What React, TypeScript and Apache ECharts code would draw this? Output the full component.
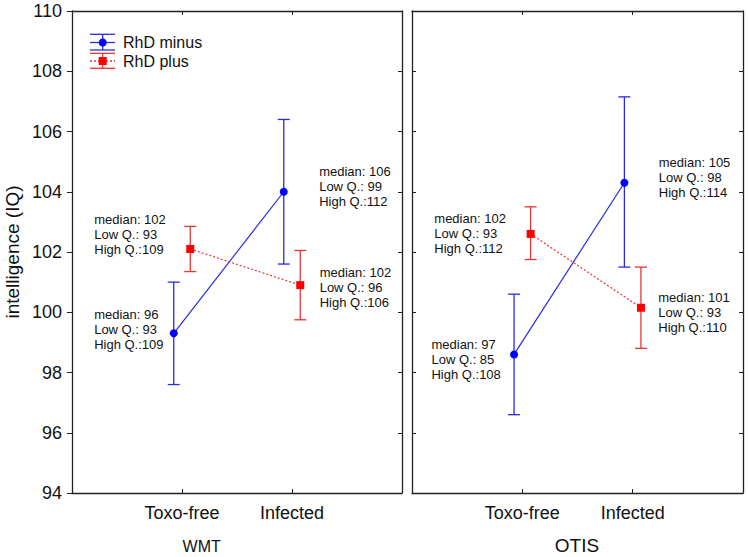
import React, { useEffect, useRef } from "react";
import * as echarts from "echarts";

// ---- data ----
const categories = ["Toxo-free", "Infected"];
const panels = ["WMT", "OTIS"];
const seriesNames = ["RhD minus", "RhD plus"];

// WMT panel
const wmtMinusMean = [99.3, 104.0];
const wmtMinusLow = [97.6, 101.6];
const wmtMinusHigh = [101.0, 106.4];
const wmtPlusMean = [102.1, 100.9];
const wmtPlusLow = [101.35, 99.75];
const wmtPlusHigh = [102.85, 102.05];
const wmtMinusMedian = [96, 106];
const wmtMinusLowQ = [93, 99];
const wmtMinusHighQ = [109, 112];
const wmtPlusMedian = [102, 102];
const wmtPlusLowQ = [93, 96];
const wmtPlusHighQ = [109, 106];

// OTIS panel
const otisMinusMean = [98.6, 104.3];
const otisMinusLow = [96.6, 101.5];
const otisMinusHigh = [100.6, 107.15];
const otisPlusMean = [102.6, 100.15];
const otisPlusLow = [101.75, 98.8];
const otisPlusHigh = [103.5, 101.5];
const otisMinusMedian = [97, 105];
const otisMinusLowQ = [85, 98];
const otisMinusHighQ = [108, 114];
const otisPlusMedian = [102, 101];
const otisPlusLowQ = [93, 93];
const otisPlusHighQ = [112, 110];

const yTicks = [94, 96, 98, 100, 102, 104, 106, 108, 110];

// ---- layout / style ----
const FONT = 'Arial, "Liberation Sans", Helvetica, sans-serif';
const BLUE = "#0000ff";
const BLUE_LINE = "#2b2be0";
const RED = "#ff0000";
const RED_LINE = "#e53535";
const AXIS_COLOR = "#222";
const SHIFT = 0.075; // horizontal dodge of the two groups
const GRIDS = [
  { left: 72, top: 11, width: 330, height: 482 },
  { left: 412, top: 11, width: 331, height: 482 },
];
// label offsets (px) from marker centre: [panel][series][category]
const LABEL_OFFSETS = [
  [
    [[-79.6, -4], [35.4, -5.4]],
    [[-96, -14], [19.4, 2.8]],
  ],
  [
    [[-82.6, 5.5], [34.4, -5.1]],
    [[-96.3, -0.7], [17.3, 4.3]],
  ],
];

const labelText = (med: number, lo: number, hi: number) =>
  `median: ${med}\nLow Q.: ${lo}\nHigh Q.:${hi}`;

type Group = {
  mean: number[];
  low: number[];
  high: number[];
  median: number[];
  lowQ: number[];
  highQ: number[];
};

const panelData: Group[][] = [
  [
    { mean: wmtMinusMean, low: wmtMinusLow, high: wmtMinusHigh, median: wmtMinusMedian, lowQ: wmtMinusLowQ, highQ: wmtMinusHighQ },
    { mean: wmtPlusMean, low: wmtPlusLow, high: wmtPlusHigh, median: wmtPlusMedian, lowQ: wmtPlusLowQ, highQ: wmtPlusHighQ },
  ],
  [
    { mean: otisMinusMean, low: otisMinusLow, high: otisMinusHigh, median: otisMinusMedian, lowQ: otisMinusLowQ, highQ: otisMinusHighQ },
    { mean: otisPlusMean, low: otisPlusLow, high: otisPlusHigh, median: otisPlusMedian, lowQ: otisPlusLowQ, highQ: otisPlusHighQ },
  ],
];

function buildOption() {
  const grid = GRIDS.map((g) => ({ ...g, show: false, containLabel: false, outerBoundsMode: "none" }));
  const xAxis: any[] = [];
  const yAxis: any[] = [];
  const series: any[] = [];

  panels.forEach((_, p) => {
    const baseX = {
      type: "value",
      gridIndex: p,
      min: 0,
      max: 3,
      interval: 1,
      splitLine: { show: false },
      axisLine: { show: true, onZero: false, lineStyle: { color: AXIS_COLOR, width: 1.3 } },
      axisTick: { show: true, inside: true, length: 4, lineStyle: { color: AXIS_COLOR } },
    };
    xAxis.push({
      ...baseX,
      position: "bottom",
      axisLabel: {
        show: true,
        fontSize: 18,
        fontFamily: FONT,
        color: "#111",
        margin: 11,
        formatter: (v: number) => categories[v - 1] ?? "",
      },
    });
    xAxis.push({ ...baseX, position: "top", axisLabel: { show: false } });

    const baseY = {
      type: "value",
      gridIndex: p,
      min: yTicks[0],
      max: yTicks[yTicks.length - 1],
      interval: 2,
      splitLine: { show: false },
      axisLine: { show: true, onZero: false, lineStyle: { color: AXIS_COLOR, width: 1.3 } },
    };
    yAxis.push({
      ...baseY,
      position: "left",
      axisTick: { show: true, inside: p !== 0, length: p === 0 ? 5 : 4, lineStyle: { color: AXIS_COLOR } },
      axisLabel: {
        show: p === 0,
        fontSize: 18,
        fontFamily: FONT,
        color: "#111",
        margin: 10,
      },
      name: p === 0 ? "intelligence (IQ)" : "",
      nameLocation: "middle",
      nameGap: 50,
      nameTextStyle: { fontSize: 19, fontFamily: FONT, color: "#111" },
    });
    yAxis.push({
      ...baseY,
      position: "right",
      axisTick: { show: true, inside: true, length: 4, lineStyle: { color: AXIS_COLOR } },
      axisLabel: { show: false },
    });

    panelData[p].forEach((grp, s) => {
      const dx = s === 0 ? -SHIFT : SHIFT;
      const color = s === 0 ? BLUE : RED;
      const lineColor = s === 0 ? BLUE_LINE : RED_LINE;
      const xs = categories.map((_, i) => i + 1 + dx);

      series.push({
        type: "custom",
        name: seriesNames[s],
        xAxisIndex: p * 2,
        yAxisIndex: p * 2,
        z: 2,
        data: xs.map((x, i) => [x, grp.low[i], grp.high[i]]),
        renderItem: (params: any, api: any) => {
          const x = api.value(0);
          const lo = api.coord([x, api.value(1)]);
          const hi = api.coord([x, api.value(2)]);
          const hw = 6;
          const st = { stroke: lineColor, lineWidth: 1.3 };
          return {
            type: "group",
            children: [
              { type: "line", shape: { x1: lo[0], y1: lo[1], x2: hi[0], y2: hi[1] }, style: st },
              { type: "line", shape: { x1: lo[0] - hw, y1: lo[1], x2: lo[0] + hw, y2: lo[1] }, style: st },
              { type: "line", shape: { x1: hi[0] - hw, y1: hi[1], x2: hi[0] + hw, y2: hi[1] }, style: st },
            ],
          };
        },
      });

      series.push({
        type: "line",
        name: seriesNames[s],
        xAxisIndex: p * 2,
        yAxisIndex: p * 2,
        z: 3,
        symbol: s === 0 ? "circle" : "rect",
        symbolSize: 8,
        itemStyle: { color },
        lineStyle: { color: lineColor, width: 1.2, type: s === 0 ? "solid" : [2, 2] },
        data: xs.map((x, i) => ({
          value: [x, grp.mean[i]],
          label: {
            show: true,
            position: "inside",
            align: "left",
            verticalAlign: "middle",
            offset: LABEL_OFFSETS[p][s][i],
            formatter: labelText(grp.median[i], grp.lowQ[i], grp.highQ[i]),
            fontSize: 13,
            lineHeight: 15,
            fontFamily: FONT,
            color: "#111",
          },
        })),
      });
    });
  });

  const legendX1 = 90;
  const legendX2 = 115;
  const legendXC = 102.7;
  const legendRows = [
    { top: 34.3, mid: 42.5, bot: 50, color: BLUE_LINE, marker: BLUE, dotted: false },
    { top: 53.3, mid: 61, bot: 68.3, color: RED_LINE, marker: RED, dotted: true },
  ];
  const graphic: any[] = [];
  legendRows.forEach((r, i) => {
    const st = { stroke: r.color, lineWidth: 1.3 };
    graphic.push(
      { type: "line", shape: { x1: legendX1, y1: r.top, x2: legendX2, y2: r.top }, style: st },
      { type: "line", shape: { x1: legendX1, y1: r.bot, x2: legendX2, y2: r.bot }, style: st },
      {
        type: "line",
        shape: { x1: legendX1, y1: r.mid, x2: legendX2, y2: r.mid },
        style: { ...st, lineDash: r.dotted ? [2, 2] : null },
      },
      { type: "line", shape: { x1: legendXC, y1: r.top, x2: legendXC, y2: r.bot }, style: st },
      i === 0
        ? { type: "circle", shape: { cx: legendXC, cy: r.mid, r: 4 }, style: { fill: r.marker } }
        : { type: "rect", shape: { x: legendXC - 4, y: r.mid - 4, width: 8, height: 8 }, style: { fill: r.marker } },
      {
        type: "text",
        x: 123,
        y: r.mid,
        style: {
          text: seriesNames[i],
          fontSize: 16,
          fontFamily: FONT,
          fill: "#111",
          verticalAlign: "middle",
        },
      }
    );
  });
  graphic.push(
    {
      type: "text",
      x: 201.7,
      y: 546.7,
      style: { text: panels[0], fontSize: 16, fontFamily: FONT, fill: "#111", align: "center", verticalAlign: "middle" },
    },
    {
      type: "text",
      x: 577,
      y: 545,
      style: { text: panels[1], fontSize: 19, fontFamily: FONT, fill: "#111", align: "center", verticalAlign: "middle" },
    }
  );

  return {
    animation: false,
    backgroundColor: "#ffffff",
    grid,
    xAxis,
    yAxis,
    series,
    graphic,
  };
}

export default function App() {
  const ref = useRef<HTMLDivElement>(null);
  useEffect(() => {
    if (!ref.current) return;
    const chart = echarts.init(ref.current, undefined, { renderer: "svg" });
    chart.setOption(buildOption() as any);
    return () => chart.dispose();
  }, []);
  return (
    <div
      ref={ref}
      style={{ position: "fixed", left: 0, top: 0, width: 748, height: 557, background: "#fff" }}
    />
  );
}
